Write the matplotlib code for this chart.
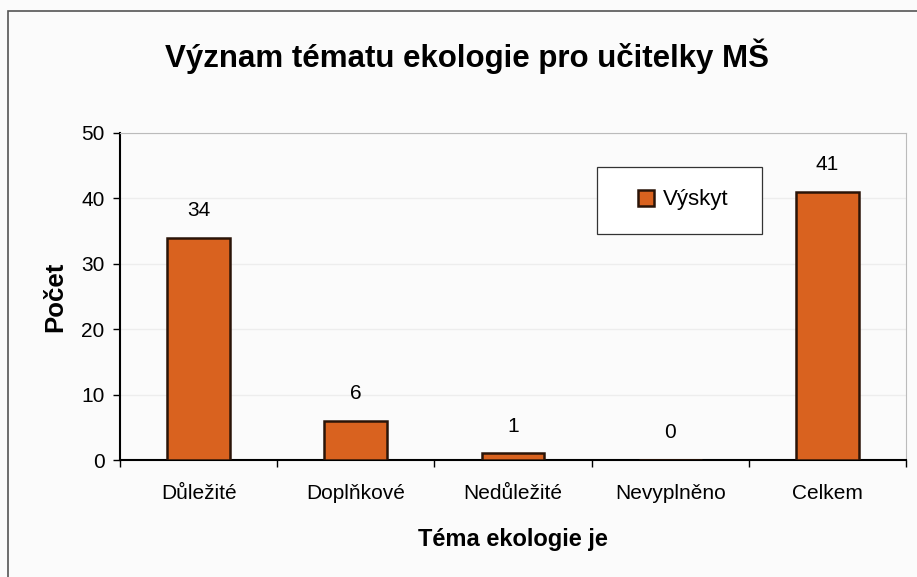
import matplotlib.pyplot as plt
from matplotlib.patches import Rectangle

categories = ['Důležité', 'Doplňkové', 'Nedůležité', 'Nevyplněno', 'Celkem']
counts = [34, 6, 1, 0, 41]
yticks = [0, 10, 20, 30, 40, 50]

plt.rcParams['font.family'] = ['Liberation Sans', 'DejaVu Sans']

W, H = 917, 577
fig = plt.figure(figsize=(W / 100, H / 100), dpi=100, facecolor='#fbfbfb')
ax = fig.add_axes([120 / W, 1 - 460 / H, 786 / W, 327 / H])
ax.set_facecolor('#fbfbfb')

# outer chart frame
fig.patches.append(Rectangle((8 / W, -0.01), 1.0, 1 - 11 / H + 0.01,
                             transform=fig.transFigure, fill=False,
                             edgecolor='#555555', linewidth=1.2))

x = list(range(len(categories)))
ax.bar(x, counts, width=0.4, color='#d9621f', edgecolor='#2a1408',
       linewidth=1.8, label='Výskyt', zorder=3)
for xi, v in zip(x, counts):
    ax.text(xi, v + 2.7, str(v), ha='center', va='bottom', fontsize=15)

ax.set_xlim(-0.5, len(categories) - 0.5)
ax.set_ylim(0, 50)
ax.set_yticks(yticks)
ax.set_xticks(x)
ax.set_xticklabels(categories, fontsize=15)
ax.set_xticks([i + 0.5 for i in range(-1, len(categories))], minor=True)
ax.tick_params(axis='x', which='major', length=0, pad=17)
ax.tick_params(axis='x', which='minor', length=5, width=1, direction='out')
ax.tick_params(axis='y', labelsize=15, length=5, width=1, direction='out', pad=6)
ax.yaxis.grid(True, color='#ededed', linewidth=1, zorder=0)

for s in ['top', 'right']:
    ax.spines[s].set_color('#bbbbbb')
    ax.spines[s].set_linewidth(0.8)
for s in ['left', 'bottom']:
    ax.spines[s].set_color('black')
    ax.spines[s].set_linewidth(1.5)

ax.set_ylabel('Počet', fontsize=18.5, fontweight='bold', labelpad=10)
ax.set_xlabel('Téma ekologie je', fontsize=17, fontweight='bold', labelpad=18)
fig.text(467 / W, 1 - 56 / H, 'Význam tématu ekologie pro učitelky MŠ',
         ha='center', va='center', fontsize=22.5, fontweight='bold')

# legend box
ax.add_patch(Rectangle(((597 - 120) / 786, (460 - 234) / 327), 165 / 786, 67 / 327,
                       transform=ax.transAxes, facecolor='white', edgecolor='#333333',
                       linewidth=0.9, zorder=4))
ax.legend(loc='center', bbox_to_anchor=((683 - 120) / 786, (460 - 200) / 327),
          fontsize=16, frameon=False, handlelength=0.7, handleheight=0.7,
          handletextpad=0.4, borderaxespad=0).set_zorder(5)

fig.savefig('out.png', dpi=100, facecolor=fig.get_facecolor())
